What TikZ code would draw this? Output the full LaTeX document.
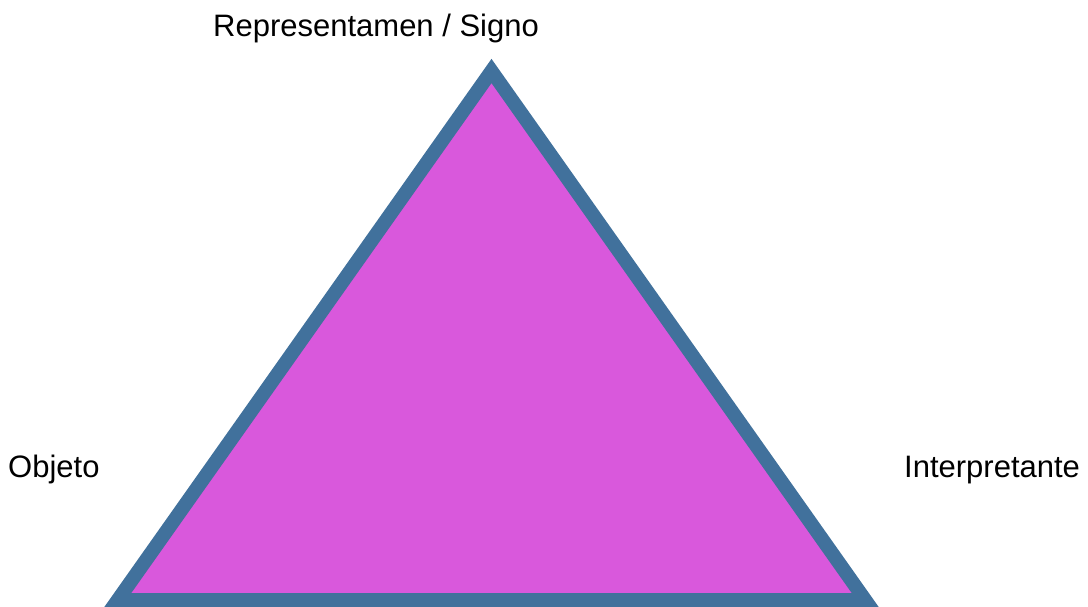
\documentclass[tikz,border=0pt]{standalone}
\usepackage{fontspec}
\setmainfont{Liberation Sans}
\definecolor{edgeblue}{HTML}{41719C}
\definecolor{fillmag}{HTML}{D958DC}
\begin{document}
\begin{tikzpicture}[x=1pt,y=-1pt,
  lbl/.style={font=\fontsize{31}{36}\selectfont, inner sep=0pt, anchor=base west},
  tri/.style={draw=edgeblue, fill=fillmag, line width=14pt, line join=miter}]
\useasboundingbox (0,0) rectangle (1088,606);
\coordinate (top) at (491.5,71);
\coordinate (bl) at (117.8,600);
\coordinate (br) at (865.2,600);
\draw[tri] (top) -- (bl) -- (br) -- cycle;
\node[lbl] (rep) at (213,36) {Representamen / Signo};
\node[lbl] (obj) at (8,477) {Objeto};
\node[lbl] (int) at (904,477) {Interpretante};
\end{tikzpicture}
\end{document}
